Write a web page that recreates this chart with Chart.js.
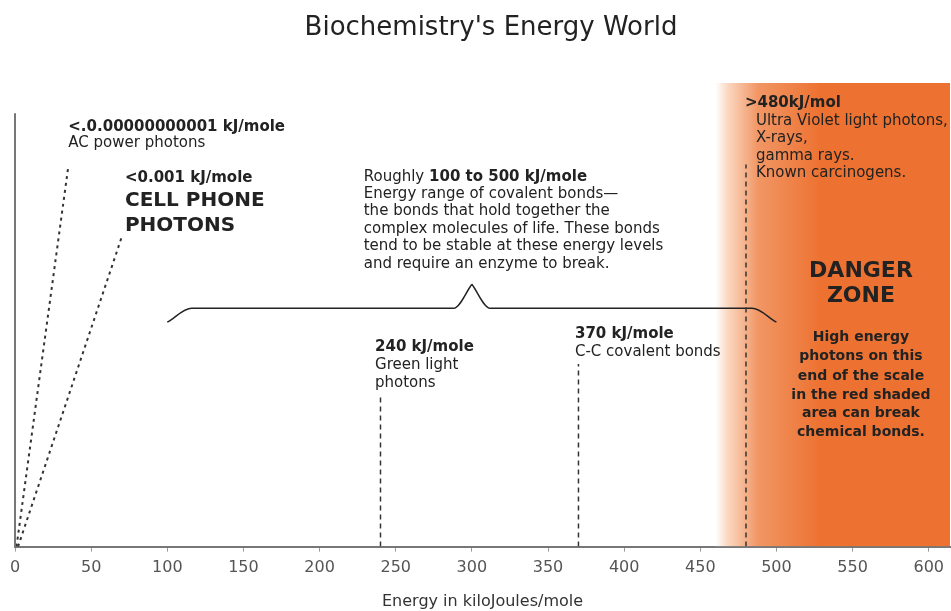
<!DOCTYPE html>
<html>
<head>
<meta charset="utf-8">
<script src="https://cdn.jsdelivr.net/npm/chart.js@4.4.0/dist/chart.umd.min.js"></script>
<style>
  html, body { margin: 0; padding: 0; background: #fff; }
  #wrap { width: 951px; height: 611px; }
</style>
</head>
<body>
<div id="wrap"><canvas id="grafica"></canvas></div>
<script>
// Datos del grafico
const xMax = 614;
const acLineX = [1, 35];        // AC power photons
const acLineY = [0, 82];
const cellLineX = [2, 70];      // cell phone photons
const cellLineY = [0, 66.7];
const markerX = [240, 370, 480];  // lineas verticales
const markerTop = [33, 39.4, 82.4];
const braceLeftX = [100, 116, 288, 300];
const braceLeftY = [48.4, 51.4, 51.4, 56.6];
const braceRightX = [300, 312, 484, 500];
const braceRightY = [56.6, 51.4, 51.4, 48.4];
const dangerX = [460, xMax];
const dangerY = [100, 100];
const yAxisTop = 93.5;

const FONT = "'DejaVu Sans', sans-serif";

// Notas de texto (ancla en unidades de datos)
const notes = [
  { x: 35, y: 90.5, align: 'left', lines: [
    { t: '<.0.00000000001 kJ/mole', b: true, s: 15, dy: 0 },
    { t: 'AC power photons', s: 15, dy: 16 } ] },
  { x: 72.2, y: 79.4, align: 'left', lines: [
    { t: '<0.001 kJ/mole', b: true, s: 15, dy: 0 },
    { t: 'CELL PHONE', b: true, s: 20, dy: 22 },
    { t: 'PHOTONS', b: true, s: 20, dy: 47 } ] },
  { x: 229, y: 79.8, align: 'left', lines: [
    { t: 'Roughly ', s: 15, dy: 0, tail: '100 to 500 kJ/mole' },
    { t: 'Energy range of covalent bonds\u2014', s: 15, dy: 17.4 },
    { t: 'the bonds that hold together the', s: 15, dy: 34.8 },
    { t: 'complex molecules of life. These bonds', s: 15, dy: 52.2 },
    { t: 'tend to be stable at these energy levels', s: 15, dy: 69.6 },
    { t: 'and require an enzyme to break.', s: 15, dy: 87 } ] },
  { x: 236.4, y: 43.0, align: 'left', lines: [
    { t: '240 kJ/mole', b: true, s: 15, dy: 0 },
    { t: 'Green light', s: 15, dy: 18 },
    { t: 'photons', s: 15, dy: 36 } ] },
  { x: 367.7, y: 45.8, align: 'left', lines: [
    { t: '370 kJ/mole', b: true, s: 15, dy: 0 },
    { t: 'C-C covalent bonds', s: 15, dy: 18 } ] },
  { x: 479.3, y: 95.7, align: 'left', lines: [
    { t: '>480kJ/mol', b: true, s: 15, dy: 0 },
    { t: 'Ultra Violet light photons,', s: 15, dy: 18, dx: 11 },
    { t: 'X-rays,', s: 15, dy: 35, dx: 11 },
    { t: 'gamma rays.', s: 15, dy: 53, dx: 11 },
    { t: 'Known carcinogens.', s: 15, dy: 70, dx: 11 } ] },
  { x: 555.5, y: 59.4, align: 'center', lines: [
    { t: 'DANGER', b: true, s: 22, dy: 0 },
    { t: 'ZONE', b: true, s: 22, dy: 25 },
    { t: 'High energy', b: true, s: 14, dy: 66 },
    { t: 'photons on this', b: true, s: 14, dy: 85 },
    { t: 'end of the scale', b: true, s: 14, dy: 105 },
    { t: 'in the red shaded', b: true, s: 14, dy: 124 },
    { t: 'area can break', b: true, s: 14, dy: 142 },
    { t: 'chemical bonds.', b: true, s: 14, dy: 161 } ] }
];

function pts(xs, ys) {
  return xs.map((x, i) => ({ x: x, y: ys[i] }));
}

const markerSets = markerX.map((x, i) => ({
  data: [{ x: x, y: 0 }, { x: x, y: markerTop[i] }],
  borderColor: '#333',
  borderWidth: 1.5,
  borderDash: [5, 4],
  pointRadius: 0,
  fill: false
}));

const braceStyle = {
  borderColor: '#222',
  borderWidth: 1.5,
  cubicInterpolationMode: 'monotone',
  pointRadius: 0,
  fill: false
};

// Dibuja titulo y notas
const notesPlugin = {
  id: 'notas',
  afterDatasetsDraw(chart) {
    const ctx = chart.ctx;
    const sx = chart.scales.x, sy = chart.scales.y;
    ctx.save();
    ctx.fillStyle = '#222';
    ctx.textBaseline = 'middle';
    ctx.font = '26px ' + FONT;
    ctx.textAlign = 'center';
    ctx.fillText("Biochemistry's Energy World", 491, 28);
    notes.forEach(n => {
      const x0 = sx.getPixelForValue(n.x);
      const y0 = sy.getPixelForValue(n.y);
      n.lines.forEach(l => {
        ctx.textAlign = n.align;
        ctx.font = (l.b ? 'bold ' : '') + l.s + 'px ' + FONT;
        const x = x0 + (l.dx || 0);
        ctx.fillText(l.t, x, y0 + l.dy);
        if (l.tail) {
          const w = ctx.measureText(l.t).width;
          ctx.font = 'bold ' + l.s + 'px ' + FONT;
          ctx.fillText(l.tail, x + w, y0 + l.dy);
        }
      });
    });
    ctx.restore();
  }
};

new Chart(document.getElementById('grafica'), {
  type: 'line',
  data: {
    datasets: [
      {
        data: pts(dangerX, dangerY),
        fill: 'origin',
        order: 10,
        borderWidth: 0,
        pointRadius: 0,
        backgroundColor(c) {
          const ch = c.chart;
          if (!ch.chartArea) return 'rgb(237,113,48)';
          const a = ch.scales.x.getPixelForValue(460);
          const b = ch.scales.x.getPixelForValue(530);
          const g = ch.ctx.createLinearGradient(a, 0, b, 0);
          g.addColorStop(0, 'rgba(255,255,255,1)');
          g.addColorStop(0.12, 'rgb(250,214,190)');
          g.addColorStop(0.4, 'rgb(241,150,100)');
          g.addColorStop(1, 'rgb(237,113,48)');
          return g;
        }
      },
      {
        data: [{ x: 0, y: 0 }, { x: 0, y: yAxisTop }],
        borderColor: '#777',
        borderWidth: 2,
        pointRadius: 0,
        clip: false,
        fill: false
      },
      {
        data: pts(acLineX, acLineY),
        borderColor: '#333',
        borderWidth: 2,
        borderDash: [3, 4],
        pointRadius: 0,
        fill: false
      },
      {
        data: pts(cellLineX, cellLineY),
        borderColor: '#333',
        borderWidth: 2,
        borderDash: [3, 4],
        pointRadius: 0,
        fill: false
      },
      ...markerSets,
      Object.assign({ data: pts(braceLeftX, braceLeftY) }, braceStyle),
      Object.assign({ data: pts(braceRightX, braceRightY) }, braceStyle)
    ]
  },
  options: {
    responsive: true,
    maintainAspectRatio: false,
    animation: false,
    layout: { padding: { top: 83, left: 15, right: 0, bottom: 0 } },
    plugins: {
      legend: { display: false },
      tooltip: { enabled: false },
      title: { display: false }
    },
    scales: {
      x: {
        type: 'linear',
        min: 0,
        max: xMax,
        grid: { drawOnChartArea: false, drawTicks: true, tickLength: 5, color: '#999' },
        border: { display: true, color: '#777', width: 2 },
        ticks: {
          stepSize: 50,
          includeBounds: false,
          padding: 7,
          color: '#555',
          font: { family: FONT, size: 16 }
        },
        title: {
          display: true,
          text: 'Energy in kiloJoules/mole',
          color: '#333',
          font: { family: FONT, size: 16 },
          padding: { top: 7, bottom: 0 }
        }
      },
      y: {
        display: false,
        min: 0,
        max: 100
      }
    }
  },
  plugins: [notesPlugin]
});
</script>
</body>
</html>
